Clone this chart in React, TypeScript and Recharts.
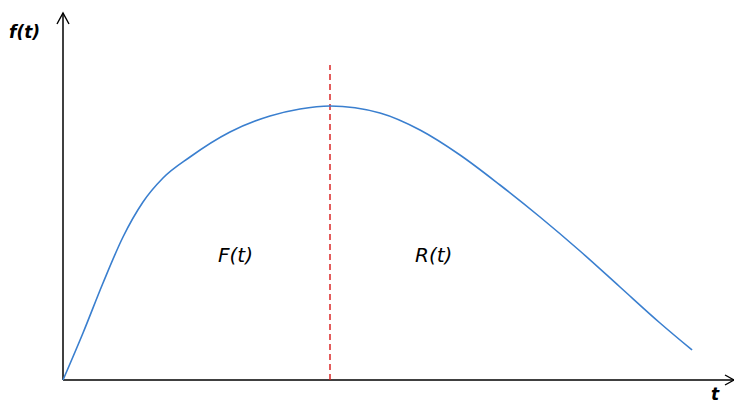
import React from 'react';
import { LineChart, Line, XAxis, YAxis, ReferenceLine } from 'recharts';

// curve samples: t along the axis, f(t) above it
const tValues = [0, 20, 40, 60, 80, 100, 127, 167, 207, 237, 267, 317, 357, 397, 437, 477, 517, 557, 597, 629];
const fValues = [0, 47, 97, 143, 178, 202, 223, 248, 264, 271, 274, 267, 250, 225, 195, 163, 129, 93, 57, 30];

const T_MAX = 671;
const F_MAX = 367;
const SPLIT_T = 267;
const SPLIT_TOP = 315;

const data = tValues.map((t, i) => ({ t, f: fValues[i] }));

const W = 734;
const H = 403;

const upArrow = (props: any) => {
  const { x, y } = props.viewBox;
  return <path d={`M${x - 6},${y + 11} L${x},${y} L${x + 6},${y + 11}`} fill="none" stroke="#000" strokeWidth={1.4} />;
};

const rightArrow = (props: any) => {
  const { x, y, width } = props.viewBox;
  const ex = x + width;
  return <path d={`M${ex - 9},${y - 5} L${ex},${y} L${ex - 9},${y + 5}`} fill="none" stroke="#000" strokeWidth={1.4} />;
};

const labelStyle = { fontFamily: 'DejaVu Sans, sans-serif', fontStyle: 'italic' as const, fill: '#000' };

export default function App() {
  return (
    <div style={{ position: 'absolute', left: 0, top: 0, width: W, height: H, background: '#fff' }}>
      <LineChart width={W} height={H} data={data} margin={{ top: 13, right: 0, bottom: 23, left: 63 }}>
        <XAxis dataKey="t" type="number" domain={[0, T_MAX]} hide />
        <YAxis type="number" domain={[0, F_MAX]} hide />
        <ReferenceLine
          segment={[{ x: 0, y: 0 }, { x: T_MAX, y: 0 }]}
          stroke="#000"
          strokeWidth={1.5}
          label={rightArrow}
        />
        <ReferenceLine
          segment={[{ x: 0, y: 0 }, { x: 0, y: F_MAX }]}
          stroke="#000"
          strokeWidth={1.5}
          label={upArrow}
        />
        <ReferenceLine
          segment={[{ x: SPLIT_T, y: 0 }, { x: SPLIT_T, y: SPLIT_TOP }]}
          stroke="#d81818"
          strokeWidth={1.4}
          strokeDasharray="6 4"
        />
        <Line type="monotone" dataKey="f" stroke="#3a7fcf" strokeWidth={1.6} dot={false} isAnimationActive={false} />
        <text x={9} y={38} fontSize={17} fontWeight="bold" style={labelStyle}>f(t)</text>
        <text x={711} y={400} fontSize={17} fontWeight="bold" style={labelStyle}>t</text>
        <text x={218} y={262} fontSize={20} style={labelStyle}>F(t)</text>
        <text x={415} y={262} fontSize={20} style={labelStyle}>R(t)</text>
      </LineChart>
    </div>
  );
}
